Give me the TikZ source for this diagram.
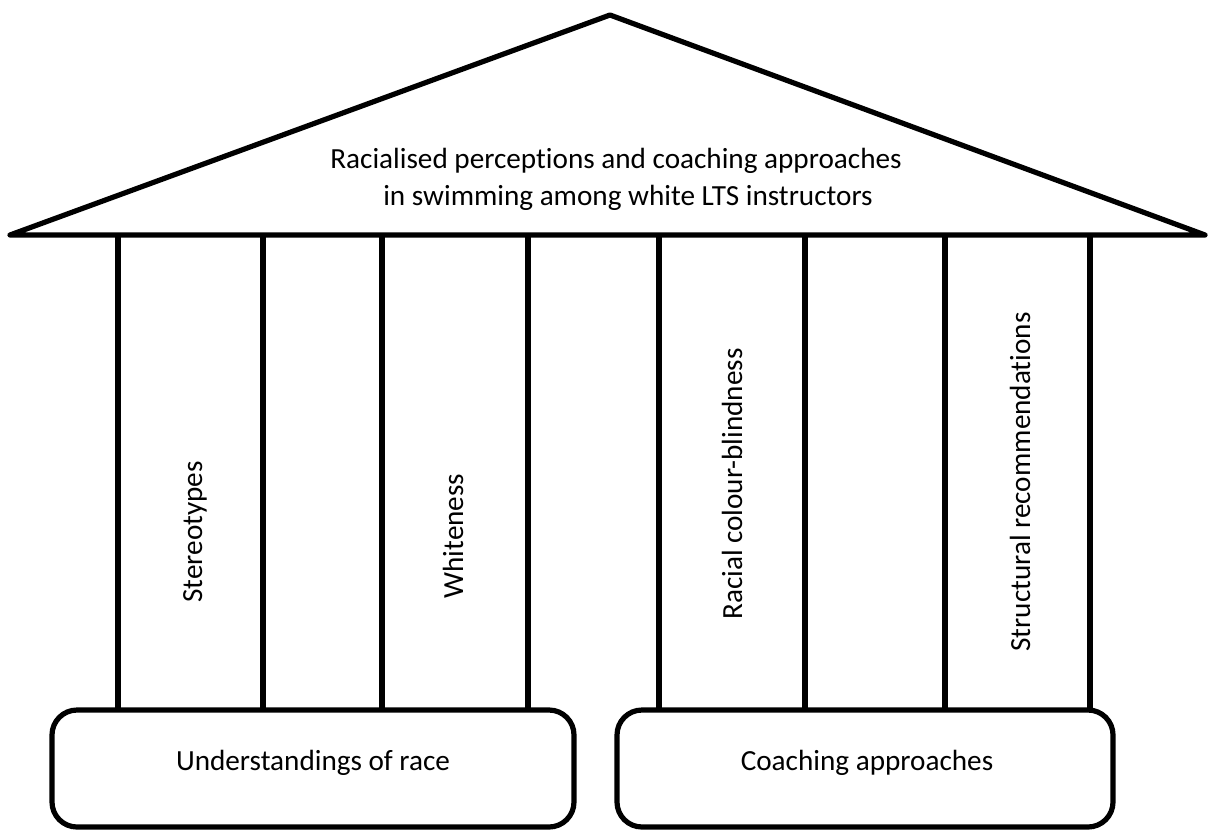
\documentclass[tikz,border=0pt]{standalone}
\usepackage{fontspec}
\setmainfont{Carlito}[Ligatures=NoCommon]
\usetikzlibrary{positioning}

\tikzset{
  heavy/.style = {line width=2.6pt},
  theme/.style = {draw, heavy, rounded corners=12.5pt, inner sep=0pt, minimum height=58.5pt},
  subtheme/.style = {rotate=90, anchor=base, inner sep=0pt},
}

\begin{document}
\begin{tikzpicture}[x=0.5pt, y=-0.5pt, font=\fontsize{14.6}{18}\selectfont]
        \useasboundingbox (0,0) rectangle (1208,830);

        % roof
        \draw[heavy, line join=round] (10,235) -- (610,15) -- (1205,235) -- cycle;
        \node[anchor=base] (title1) at (616,168) {Racialised perceptions and coaching approaches};
        \node[anchor=base] (title2) at (628,205) {in swimming among white LTS instructors};

        % pillars
        \foreach \x in {118,263,382,528,659,805,945,1090}
          \draw[heavy] (\x,235) -- (\x,710);

        \node[subtheme] (stereo) at (202,532) {Stereotypes};
        \node[subtheme] (white)  at (463,536) {Whiteness};
        \node[subtheme] (blind)  at (742,484) {Racial colour-blindness};
        \node[subtheme] (struct) at (1030,482) {Structural recommendations};

        % bases
        \node[theme, minimum width=261pt] (race)  at (313,768.5) {};
        \node[theme, minimum width=248pt] (coach) at (865,768.5) {};
        \node[anchor=base] (raceLabel)  at (313,770) {Understandings of race};
        \node[anchor=base] (coachLabel) at (867,770) {Coaching approaches};
      \end{tikzpicture}
\end{document}
